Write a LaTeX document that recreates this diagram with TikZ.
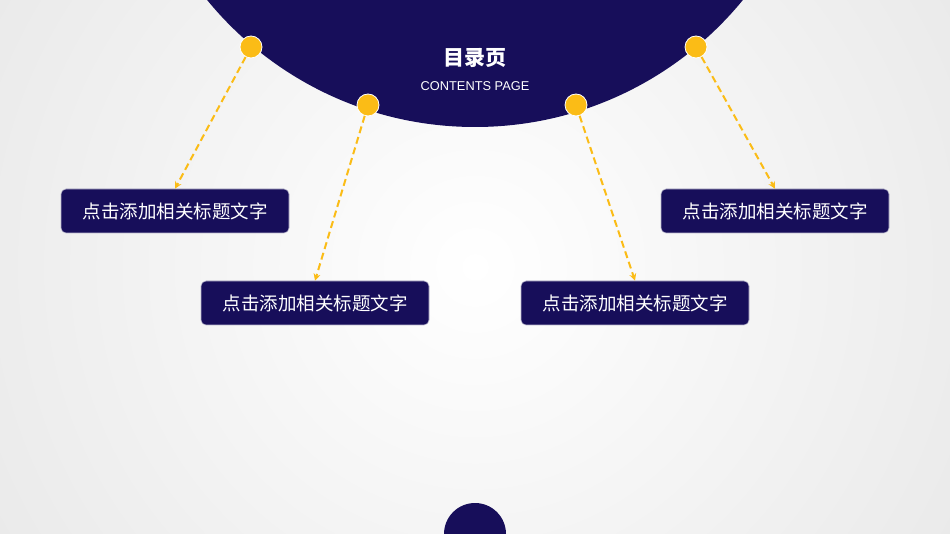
\documentclass[tikz,border=0pt]{standalone}
\usepackage{fontspec}
\setmainfont{Liberation Sans}
\newfontfamily\cjk{Noto Sans CJK SC}
\usetikzlibrary{arrows.meta}
\definecolor{navy}{RGB}{23,14,90}
\definecolor{gold}{RGB}{251,188,22}
\tikzset{
  dot/.style={circle,fill=gold,draw=white,line width=0.8pt,minimum size=22pt,inner sep=0pt},
  titlebox/.style={rectangle,rounded corners=5pt,fill=navy,draw=white!70!navy,line width=0.6pt,
    minimum width=228pt,minimum height=44pt,inner sep=0pt,text=white,font=\cjk\fontsize{18.5}{20}\selectfont},
  link/.style={gold,line width=2pt,dash pattern=on 7pt off 4pt,-{Stealth[length=7pt,width=7pt]}}
}
\begin{document}
\begin{tikzpicture}[x=1pt,y=-1pt]
\useasboundingbox (0,0) rectangle (950,534);
\clip (0,0) rectangle (950,534);
\shade[inner color=white,outer color=black!15] (-525,-733) rectangle (1475,1267);
\fill[navy] (475,-219) circle[radius=346];
\fill[navy] (475,534) circle[radius=31];
\node[text=white,font=\cjk\bfseries\fontsize{21}{24}\selectfont] (title) at (475,58) {目录页};
\node[text=white,font=\fontsize{12.8}{15}\selectfont] (sub) at (475,86) {CONTENTS PAGE};
\node[dot] (d1) at (251,47) {};
\node[dot] (d2) at (368,105) {};
\node[dot] (d3) at (576,105) {};
\node[dot] (d4) at (696,47) {};
\node[titlebox] (b1) at (175,211) {点击添加相关标题文字};
\node[titlebox] (b2) at (315,303) {点击添加相关标题文字};
\node[titlebox] (b3) at (635,303) {点击添加相关标题文字};
\node[titlebox] (b4) at (775,211) {点击添加相关标题文字};
\draw[link] (d1) -- (b1.north);
\draw[link] (d2) -- (b2.north);
\draw[link] (d3) -- (b3.north);
\draw[link] (d4) -- (b4.north);
\end{tikzpicture}
\end{document}
